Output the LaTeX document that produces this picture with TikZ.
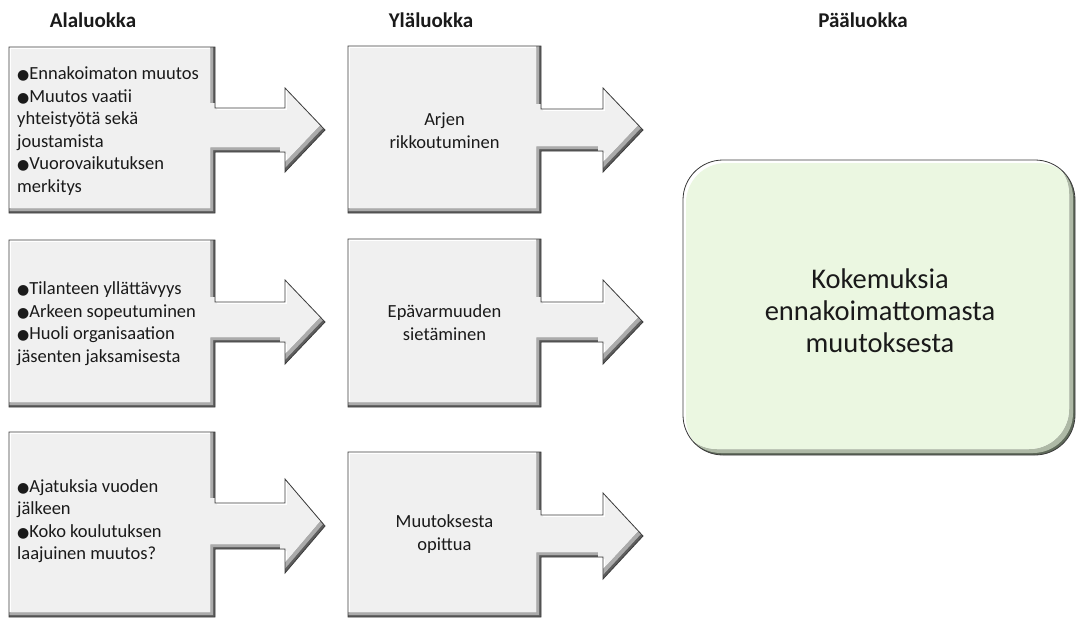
\documentclass[tikz,border=0pt]{standalone}
\usepackage{fontspec}
\setmainfont{Carlito}
\newfontfamily\symfont{DejaVu Sans}
\usetikzlibrary{calc}

\definecolor{facegray}{HTML}{F0F0F0}
\definecolor{bevdark}{HTML}{5E5E5E}
\definecolor{bevmid}{HTML}{ABABAB}
\definecolor{edgegray}{HTML}{3C3C3C}
\definecolor{facegreen}{HTML}{EBF7E1}
\definecolor{bevgreen}{HTML}{5F6A5A}
\definecolor{bevgreenmid}{HTML}{AEB9A6}
\definecolor{inktext}{HTML}{1A1A1A}

\newcommand\bul{{\symfont\fontsize{14}{14}\selectfont ●}}

\tikzset{
  header/.style={font=\bfseries\fontsize{21}{24}\selectfont, text=inktext, inner sep=0pt},
  listtext/.style={font=\fontsize{18.5}{22.5}\selectfont, text=inktext, align=left, anchor=west, inner sep=0pt},
  midtext/.style={font=\fontsize{18.5}{23}\selectfont, text=inktext, align=center, inner sep=0pt},
  maintext/.style={font=\fontsize{28.5}{32}\selectfont, text=inktext, align=center, inner sep=0pt},
  outline/.style={draw=edgegray, line width=0.8pt}
}

% box with a right-pointing arrow: left, top, right, bottom, arrow axis y,
% half shaft height, half head height, head base x, tip x
\newcommand\callout[9]{%
  \def\cpath##1{\path[##1] (#1,#2) -- (#3,#2) -- (#3,{#5-#6}) -- (#8,{#5-#6})
    -- (#8,{#5-#7}) -- (#9,#5) -- (#8,{#5+#7}) -- (#8,{#5+#6}) -- (#3,{#5+#6})
    -- (#3,#4) -- (#1,#4) -- cycle;}%
  \begin{scope}
    \cpath{clip}
    \cpath{fill=bevdark}
    \cpath{fill=bevmid, shift={(-2,-2)}}
    \cpath{fill=white, shift={(-5,-5)}}
    \begin{scope}
      \cpath{clip, shift={(-5,-5)}}
      \cpath{fill=facegray, shift={(2,2)}}
    \end{scope}
  \end{scope}
  \cpath{outline}%
}

% rounded panel: left, top, right, bottom
\newcommand\panel[4]{%
  \def\ppath##1{\path[rounded corners=40pt, ##1] (#1,#2) rectangle (#3,#4);}%
  \begin{scope}
    \ppath{clip}
    \ppath{fill=bevgreen}
    \ppath{fill=bevgreenmid, shift={(-2,-2)}}
    \ppath{fill=white, shift={(-6,-6)}}
    \begin{scope}
      \ppath{clip, shift={(-6,-6)}}
      \ppath{fill=facegreen, shift={(3,3)}}
    \end{scope}
  \end{scope}
  \ppath{outline}%
}

\begin{document}
\begin{tikzpicture}[x=1pt, y=-1pt]
  \useasboundingbox[fill=white] (0,0) rectangle (1076,619);

  % column headings
  \node[header] (hA) at (93,20) {Alaluokka};
  \node[header] (hY) at (431,20) {Yläluokka};
  \node[header] (hP) at (863,20) {Pääluokka};

  % lower-level categories
  \callout{9}{47}{215}{213}{130}{22}{42}{285}{325}
  \callout{9}{240}{215}{407}{322}{20}{42}{285}{325}
  \callout{9}{432}{215}{617}{526}{23}{47}{285}{325}

  % upper-level categories
  \callout{348}{46}{541}{213}{130}{21}{42}{603}{643}
  \callout{348}{239}{541}{407}{322}{20}{42}{603}{643}
  \callout{348}{452}{541}{617}{536}{21}{43}{603}{643}

  % main category
  \panel{683}{160}{1075}{455}

  \node[listtext] (a1) at (17,131) {\bul Ennakoimaton muutos\\
    \bul Muutos vaatii\\ yhteistyötä sekä\\ joustamista\\
    \bul Vuorovaikutuksen\\ merkitys};
  \node[listtext] (a2) at (17,323.5) {\bul Tilanteen yllättävyys\\
    \bul Arkeen sopeutuminen\\ \bul Huoli organisaation\\ jäsenten jaksamisesta};
  \node[listtext] (a3) at (17,521) {\bul Ajatuksia vuoden\\ jälkeen\\
    \bul Koko koulutuksen\\ laajuinen muutos?};

  \node[midtext] (y1) at (444.5,131) {Arjen\\ rikkoutuminen};
  \node[midtext] (y2) at (444.5,323) {Epävarmuuden\\ sietäminen};
  \node[midtext] (y3) at (444.5,534) {Muutoksesta\\ opittua};

  \node[maintext] (p1) at (880,311) {Kokemuksia\\ ennakoimattomasta\\ muutoksesta};
\end{tikzpicture}
\end{document}
